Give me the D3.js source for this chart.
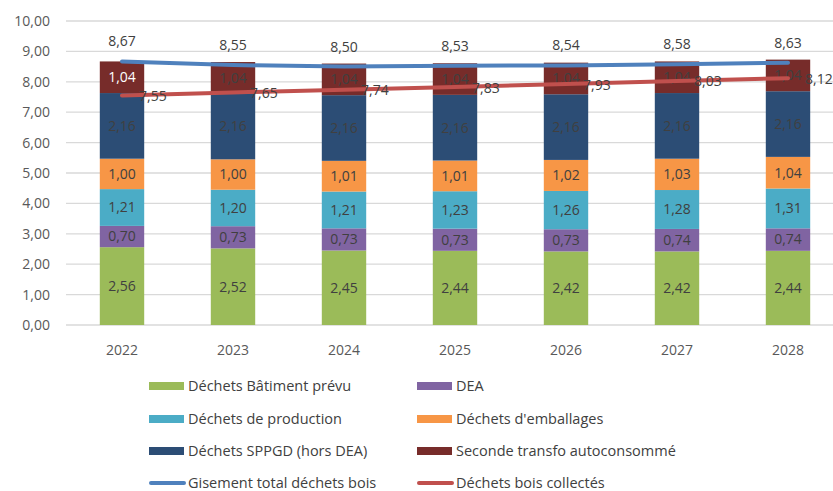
<!DOCTYPE html>
<html>
<head>
<meta charset="utf-8">
<script src="https://cdn.jsdelivr.net/npm/d3@7"></script>
<style>
  body { margin: 0; background: #fff; }
  svg { display: block; font-family: "Open Sans", sans-serif; }
</style>
</head>
<body>
<svg id="chart" width="833" height="491"></svg>
<script>
// data
var years = ["2022", "2023", "2024", "2025", "2026", "2027", "2028"];

var batiment   = [2.56, 2.52, 2.45, 2.44, 2.42, 2.42, 2.44];
var dea        = [0.70, 0.73, 0.73, 0.73, 0.73, 0.74, 0.74];
var production = [1.21, 1.20, 1.21, 1.23, 1.26, 1.28, 1.31];
var emballages = [1.00, 1.00, 1.01, 1.01, 1.02, 1.03, 1.04];
var sppgd      = [2.16, 2.16, 2.16, 2.16, 2.16, 2.16, 2.16];
var seconde    = [1.04, 1.04, 1.04, 1.04, 1.04, 1.04, 1.04];

var gisementTotal = [8.67, 8.55, 8.50, 8.53, 8.54, 8.58, 8.63];
var boisCollectes = [7.55, 7.65, 7.74, 7.83, 7.93, 8.03, 8.12];

var yTicks = [0, 1, 2, 3, 4, 5, 6, 7, 8, 9, 10];

var seriesNames = ["Déchets Bâtiment prévu", "DEA", "Déchets de production",
                   "Déchets d'emballages", "Déchets SPPGD (hors DEA)", "Seconde transfo autoconsommé"];
var seriesColors = ["#9bbb59", "#8064a2", "#4bacc6", "#f79646", "#2c4d75", "#772c2a"];
var lineNames = ["Gisement total déchets bois", "Déchets bois collectés"];
var lineColors = ["#4f81bd", "#c0504d"];

var fmt = d => d3.format(".2f")(d).replace(".", ",");

var svg = d3.select("#chart");

var x = d3.scaleBand().domain(years).range([66.5, 843.5]).paddingInner(0.6).paddingOuter(0.3);
var y = d3.scaleLinear().domain([0, 10]).range([325, 21]);

// gridlines
svg.append("g")
   .selectAll("line")
   .data(yTicks)
   .enter().append("line")
   .attr("x1", 66).attr("x2", 833)
   .attr("y1", d => y(d)).attr("y2", d => y(d))
   .attr("stroke", "#d9d9d9")
   .attr("stroke-width", 1.3);

// y tick labels
svg.append("g")
   .selectAll("text")
   .data(yTicks)
   .enter().append("text")
   .attr("x", 50)
   .attr("y", d => y(d))
   .attr("dy", "0.35em")
   .attr("text-anchor", "end")
   .attr("font-size", 14)
   .attr("fill", "#595959")
   .text(fmt);

// x labels
svg.append("g")
   .selectAll("text")
   .data(years)
   .enter().append("text")
   .attr("x", d => x(d) + x.bandwidth() / 2)
   .attr("y", 355)
   .attr("text-anchor", "middle")
   .attr("font-size", 14)
   .attr("fill", "#595959")
   .text(d => d);

// stacked bars
var table = years.map((yr, i) => ({
  year: yr, s0: batiment[i], s1: dea[i], s2: production[i],
  s3: emballages[i], s4: sppgd[i], s5: seconde[i]
}));
var keys = ["s0", "s1", "s2", "s3", "s4", "s5"];
var stacked = d3.stack().keys(keys)(table);

var layers = svg.append("g")
   .selectAll("g")
   .data(stacked)
   .enter().append("g")
   .attr("fill", (d, i) => seriesColors[i]);

layers.selectAll("rect")
   .data(d => d)
   .enter().append("rect")
   .attr("x", d => x(d.data.year))
   .attr("width", x.bandwidth())
   .attr("y", d => y(d[1]))
   .attr("height", d => y(d[0]) - y(d[1]));

// lines
var lineGen = d3.line()
   .x((d, i) => x(years[i]) + x.bandwidth() / 2)
   .y(d => y(d));

[gisementTotal, boisCollectes].forEach((vals, k) => {
  svg.append("path")
     .attr("d", lineGen(vals))
     .attr("fill", "none")
     .attr("stroke", lineColors[k])
     .attr("stroke-width", 4)
     .attr("stroke-linecap", "round");
});

// bar labels
layers.each(function(layer, li) {
  d3.select(this).selectAll("text")
    .data(layer)
    .enter().append("text")
    .attr("x", d => x(d.data.year) + x.bandwidth() / 2)
    .attr("y", d => (y(d[0]) + y(d[1])) / 2)
    .attr("dy", "0.35em")
    .attr("text-anchor", "middle")
    .attr("font-size", 14)
    .attr("fill", (d, i) => (li === 5 && i === 0) ? "#ffffff" : "#404040")
    .text(d => fmt(d[1] - d[0]));
});

// line labels
svg.append("g")
   .selectAll("text")
   .data(gisementTotal)
   .enter().append("text")
   .attr("x", (d, i) => x(years[i]) + x.bandwidth() / 2)
   .attr("y", d => y(d) - 15)
   .attr("text-anchor", "middle")
   .attr("font-size", 14)
   .attr("fill", "#404040")
   .text(fmt);

svg.append("g")
   .selectAll("text")
   .data(boisCollectes)
   .enter().append("text")
   .attr("x", (d, i) => x(years[i]) + x.bandwidth() / 2 + 17)
   .attr("y", d => y(d))
   .attr("dy", "0.4em")
   .attr("text-anchor", "start")
   .attr("font-size", 14)
   .attr("fill", "#404040")
   .text(fmt);

// legend
var legendItems = seriesNames.map((n, i) => ({name: n, color: seriesColors[i], type: "rect"}))
   .concat(lineNames.map((n, i) => ({name: n, color: lineColors[i], type: "line"})));
var colX = [149, 417];
var rowY = [386, 419, 451, 483];

var leg = svg.append("g")
   .selectAll("g")
   .data(legendItems)
   .enter().append("g")
   .attr("transform", (d, i) => `translate(${colX[i % 2]}, ${rowY[Math.floor(i / 2)]})`);

leg.filter(d => d.type === "rect").append("rect")
   .attr("x", 0).attr("y", -4)
   .attr("width", 35).attr("height", 8)
   .attr("fill", d => d.color);

leg.filter(d => d.type === "line").append("line")
   .attr("x1", 2).attr("x2", 35)
   .attr("y1", 0).attr("y2", 0)
   .attr("stroke", d => d.color)
   .attr("stroke-width", 4)
   .attr("stroke-linecap", "round");

leg.append("text")
   .attr("x", 39)
   .attr("y", 0)
   .attr("dy", "0.35em")
   .attr("font-size", 14.5)
   .attr("fill", "#404040")
   .text(d => d.name);
</script>
</body>
</html>
